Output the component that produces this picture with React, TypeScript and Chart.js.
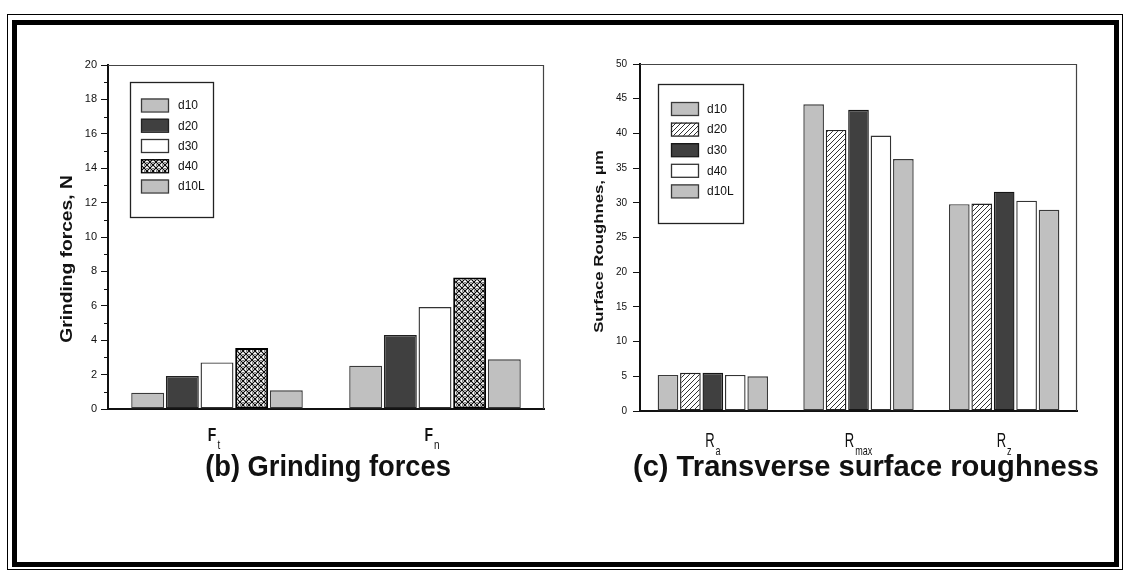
import React, { useEffect, useRef } from "react";
import { Chart, registerables } from "chart.js";
Chart.register(...registerables);

// ---------- data: (b) grinding forces ----------
const forceCategories = ["Ft", "Fn"];
const forceMain = ["F", "F"];
const forceSub = ["t", "n"];
const forceSeriesNames = ["d10", "d20", "d30", "d40", "d10L"];
const forceD10 = [0.95, 2.52];
const forceD20 = [1.92, 4.3];
const forceD30 = [2.71, 5.93];
const forceD40 = [3.55, 7.64];
const forceD10L = [1.09, 2.89];
const forceYMin = 0;
const forceYMax = 20;
const forceYStep = 2;

// ---------- data: (c) transverse surface roughness ----------
const roughCategories = ["Ra", "Rmax", "Rz"];
const roughMain = ["R", "R", "R"];
const roughSub = ["a", "max", "z"];
const roughSeriesNames = ["d10", "d20", "d30", "d40", "d10L"];
const roughD10 = [5.2, 44.2, 29.8];
const roughD20 = [5.5, 40.5, 29.9];
const roughD30 = [5.5, 43.4, 31.6];
const roughD40 = [5.2, 39.7, 30.3];
const roughD10L = [5.0, 36.3, 29.0];
const roughYMin = 0;
const roughYMax = 50;
const roughYStep = 5;

const FONT = "'Liberation Sans', Arial, sans-serif";

function makeHatch(): CanvasPattern {
  const c = document.createElement("canvas");
  c.width = 5;
  c.height = 5;
  const g = c.getContext("2d")!;
  g.fillStyle = "#ffffff";
  g.fillRect(0, 0, 5, 5);
  g.strokeStyle = "#333333";
  g.lineWidth = 1;
  g.beginPath();
  g.moveTo(-1, 6);
  g.lineTo(6, -1);
  g.stroke();
  return g.createPattern(c, "repeat")!;
}

function makeCross(): CanvasPattern {
  const c = document.createElement("canvas");
  c.width = 6;
  c.height = 6;
  const g = c.getContext("2d")!;
  g.fillStyle = "#ffffff";
  g.fillRect(0, 0, 6, 6);
  g.strokeStyle = "#000000";
  g.lineWidth = 1.1;
  g.beginPath();
  g.moveTo(0, 0);
  g.lineTo(6, 6);
  g.moveTo(6, 0);
  g.lineTo(0, 6);
  g.stroke();
  g.fillStyle = "#000000";
  g.fillRect(2.5, 0, 1, 1);
  g.fillRect(0, 2.5, 1, 1);
  return g.createPattern(c, "repeat")!;
}

// plugin: frame (top & right), minor ticks, legend box, category labels with subscripts, y title
const decorPlugin = {
  id: "decor",
  afterDraw(chart: any, _args: any, opts: any) {
    const ctx: CanvasRenderingContext2D = chart.ctx;
    const { left, top, right, bottom } = chart.chartArea;
    const xs = chart.scales.x;
    const ys = chart.scales.y;
    ctx.save();
    // frame top/right
    ctx.strokeStyle = "#444444";
    ctx.lineWidth = 1.2;
    ctx.beginPath();
    ctx.moveTo(left, top + 0.5);
    ctx.lineTo(right - 0.5, top + 0.5);
    ctx.lineTo(right - 0.5, bottom);
    ctx.stroke();

    // minor ticks
    if (opts.minorStep) {
      ctx.strokeStyle = "#111111";
      ctx.lineWidth = 1;
      for (let v = ys.min + opts.minorStep; v < ys.max; v += opts.minorStep * 2) {
        const y = Math.round(ys.getPixelForValue(v)) + 0.5;
        ctx.beginPath();
        ctx.moveTo(left - opts.minorLen, y);
        ctx.lineTo(left, y);
        ctx.stroke();
      }
    }

    // legend box
    const lg = opts.legend;
    ctx.strokeStyle = "#222222";
    ctx.lineWidth = 1.3;
    ctx.fillStyle = "#ffffff";
    ctx.fillRect(lg.x, lg.y, lg.w, lg.h);
    ctx.strokeRect(lg.x + 0.5, lg.y + 0.5, lg.w, lg.h);
    chart.data.datasets.forEach((ds: any, i: number) => {
      const cy = lg.rowY + i * lg.rowGap;
      ctx.fillStyle = ds.backgroundColor;
      ctx.fillRect(lg.swX, cy - lg.swH / 2, lg.swW, lg.swH);
      ctx.strokeStyle = ds.borderColor;
      ctx.lineWidth = 1.3;
      ctx.strokeRect(lg.swX + 0.5, cy - lg.swH / 2 + 0.5, lg.swW, lg.swH);
      ctx.fillStyle = "#111111";
      ctx.font = `${lg.fontSize}px ${FONT}`;
      ctx.textAlign = "left";
      ctx.textBaseline = "middle";
      ctx.fillText(ds.label, lg.textX, cy + 1);
    });

    // category labels with subscripts
    const cl = opts.catLabels;
    cl.main.forEach((m: string, i: number) => {
      const cx = xs.getPixelForValue(i) + cl.dx;
      ctx.font = `${cl.bold ? "bold " : ""}${cl.size}px ${FONT}`;
      const mw = ctx.measureText(m).width;
      ctx.font = `${cl.subSize}px ${FONT}`;
      const sw = ctx.measureText(cl.sub[i]).width;
      const x0 = cx - (mw + sw + 1) / 2;
      ctx.fillStyle = "#111111";
      ctx.textAlign = "left";
      ctx.textBaseline = "alphabetic";
      ctx.save();
      ctx.translate(x0, cl.baseY);
      ctx.scale(1, cl.stretch);
      ctx.font = `${cl.bold ? "bold " : ""}${cl.size}px ${FONT}`;
      ctx.fillText(m, 0, 0);
      ctx.restore();
      ctx.save();
      ctx.translate(x0 + mw + 1, cl.subY);
      ctx.scale(1, cl.stretch);
      ctx.font = `${cl.subSize}px ${FONT}`;
      ctx.fillText(cl.sub[i], 0, 0);
      ctx.restore();
    });

    // y title
    const yt = opts.yTitle;
    ctx.save();
    ctx.translate(yt.x, yt.y);
    ctx.rotate(-Math.PI / 2);
    ctx.scale(yt.stretch, 1);
    ctx.font = `bold ${yt.size}px ${FONT}`;
    ctx.fillStyle = "#111111";
    ctx.textAlign = "center";
    ctx.textBaseline = "middle";
    ctx.fillText(yt.text, 0, 0);
    ctx.restore();

    ctx.restore();
  },
};

function barDataset(label: string, data: number[], bg: any, border: string, bw = 1.4) {
  return {
    label,
    data,
    backgroundColor: bg,
    borderColor: border,
    borderWidth: bw,
    borderSkipped: false as const,
  };
}

function baseOptions(o: any) {
  return {
    animation: false as const,
    responsive: false,
    maintainAspectRatio: false,
    devicePixelRatio: 1,
    events: [] as any[],
    layout: { padding: { left: 0, top: o.top, right: o.right, bottom: 0 } },
    datasets: { bar: { categoryPercentage: o.catPct, barPercentage: o.barPct } },
    plugins: {
      legend: { display: false },
      tooltip: { enabled: false },
      title: { display: false },
      decor: o.decor,
    },
    scales: {
      x: {
        type: "category" as const,
        offset: true,
        grid: { display: false, drawTicks: false },
        ticks: { display: false },
        border: { display: true, color: "#111111", width: 2 },
        afterFit: (s: any) => {
          s.height = o.xHeight;
        },
      },
      y: {
        min: o.min,
        max: o.max,
        ticks: {
          stepSize: o.step,
          color: "#111111",
          padding: o.tickPad,
          font: { family: FONT, size: o.tickSize },
        },
        grid: {
          drawOnChartArea: false,
          drawTicks: true,
          tickLength: 7,
          tickColor: "#111111",
          tickWidth: 1,
        },
        border: { display: true, color: "#111111", width: 2 },
        afterFit: (s: any) => {
          s.width = o.yWidth;
        },
      },
    },
  };
}

export default function App() {
  const leftRef = useRef<HTMLCanvasElement>(null);
  const rightRef = useRef<HTMLCanvasElement>(null);

  useEffect(() => {
    const hatch = makeHatch();
    const cross = makeCross();
    const grey = "#c0c0c0";
    const dark = "#404040";

    const forceSeries = [forceD10, forceD20, forceD30, forceD40, forceD10L];
    const forceFills = [grey, dark, "#ffffff", cross, grey];
    const forceBorders = ["#3a3a3a", "#202020", "#333333", "#000000", "#3a3a3a"];
    const c1 = new Chart(leftRef.current!, {
      type: "bar",
      data: {
        labels: forceCategories,
        datasets: forceSeries.map((d, i) =>
          barDataset(forceSeriesNames[i], d, forceFills[i], forceBorders[i], i === 3 ? 2 : 1.4)
        ),
      },
      options: baseOptions({
        top: 65,
        right: 20,
        xHeight: 161,
        yWidth: 108,
        min: forceYMin,
        max: forceYMax,
        step: forceYStep,
        tickPad: 4,
        tickSize: 11,
        catPct: 0.795,
        barPct: 0.95,
        decor: {
          minorStep: 1,
          minorLen: 4,
          legend: {
            x: 130,
            y: 82,
            w: 83,
            h: 135,
            swX: 141,
            swW: 27,
            swH: 13,
            rowY: 105,
            rowGap: 20.25,
            textX: 178,
            fontSize: 12,
          },
          catLabels: {
            main: forceMain,
            sub: forceSub,
            bold: true,
            size: 14,
            subSize: 10,
            stretch: 1.3,
            baseY: 441,
            subY: 449,
            dx: -3,
          },
          yTitle: { text: "Grinding forces, N", x: 67.5, y: 259, size: 16, stretch: 1.2 },
        },
      }) as any,
      plugins: [decorPlugin],
    });

    const roughSeries = [roughD10, roughD20, roughD30, roughD40, roughD10L];
    const roughFills = [grey, hatch, dark, "#ffffff", grey];
    const roughBorders = ["#3a3a3a", "#222222", "#151515", "#333333", "#3a3a3a"];
    const c2 = new Chart(rightRef.current!, {
      type: "bar",
      data: {
        labels: roughCategories,
        datasets: roughSeries.map((d, i) =>
          barDataset(roughSeriesNames[i], d, roughFills[i], roughBorders[i])
        ),
      },
      options: baseOptions({
        top: 64,
        right: 51,
        xHeight: 159,
        yWidth: 76,
        min: roughYMin,
        max: roughYMax,
        step: roughYStep,
        tickPad: 6,
        tickSize: 10,
        catPct: 0.77,
        barPct: 0.92,
        decor: {
          minorStep: 0,
          minorLen: 0,
          legend: {
            x: 94,
            y: 84,
            w: 85,
            h: 139,
            swX: 107,
            swW: 27,
            swH: 13,
            rowY: 108.5,
            rowGap: 20.6,
            textX: 143,
            fontSize: 12,
          },
          catLabels: {
            main: roughMain,
            sub: roughSub,
            bold: false,
            size: 13,
            subSize: 9,
            stretch: 1.5,
            baseY: 447,
            subY: 455,
            dx: 0,
          },
          yTitle: { text: "Surface Roughnes, μm", x: 35, y: 241.5, size: 13, stretch: 1.29 },
        },
      }) as any,
      plugins: [decorPlugin],
    });

    return () => {
      c1.destroy();
      c2.destroy();
    };
  }, []);

  const titleStyle = (cx: number, sx: number): React.CSSProperties => ({
    position: "absolute",
    left: cx,
    top: 466,
    transform: `translate(-50%, -50%) scale(${sx}, 1.15)`,
    fontFamily: FONT,
    fontWeight: "bold",
    fontSize: 26,
    color: "#111111",
    whiteSpace: "nowrap",
    lineHeight: 1,
  });

  return (
    <div
      style={{
        position: "fixed",
        left: 0,
        top: 0,
        width: 1128,
        height: 570,
        background: "#ffffff",
        overflow: "hidden",
      }}
    >
      <div
        style={{
          position: "absolute",
          left: 7,
          top: 14,
          width: 1116,
          height: 556,
          border: "1px solid #000",
          boxSizing: "border-box",
        }}
      />
      <div
        style={{
          position: "absolute",
          left: 12,
          top: 20,
          width: 1107,
          height: 547,
          border: "5px solid #000",
          boxSizing: "border-box",
        }}
      />
      <canvas
        ref={leftRef}
        width={564}
        height={570}
        style={{ position: "absolute", left: 0, top: 0, width: 564, height: 570 }}
      />
      <canvas
        ref={rightRef}
        width={564}
        height={570}
        style={{ position: "absolute", left: 564, top: 0, width: 564, height: 570 }}
      />
      <div style={titleStyle(328, 1.05)}>(b) Grinding forces</div>
      <div style={titleStyle(866, 1.12)}>(c) Transverse surface roughness</div>
    </div>
  );
}
